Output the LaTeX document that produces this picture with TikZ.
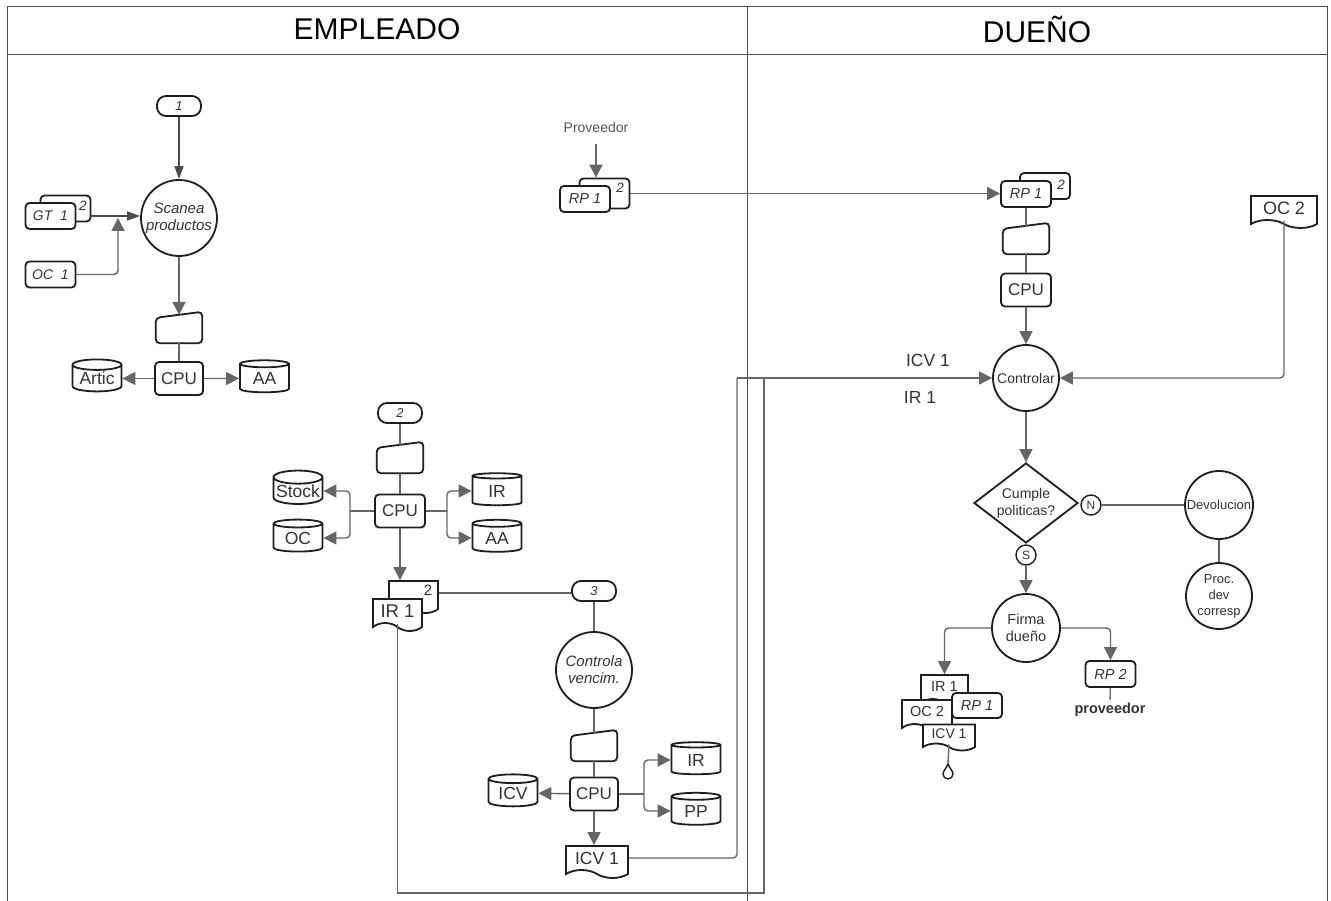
\documentclass[tikz,border=0pt]{standalone}
\usepackage{fontspec}
\setmainfont{Liberation Sans}
\usetikzlibrary{arrows.meta,shapes.geometric,shapes.symbols,calc}

\definecolor{ink}{HTML}{1E1E1E}
\definecolor{wire}{HTML}{666666}
\definecolor{txt}{HTML}{333333}
\newcommand\fsz[2]{\fontsize{#1}{#2}\selectfont}

% manual input: empty node with a slanted top drawn around it
\newcommand\manualin[2]{%
  \node[inputbox] (#1) at #2 {};
  \draw[shapeline, rounded corners=4pt] ($(#1.north west)+(0,3)$) -- ($(#1.north east)+(0,-3)$)
    -- (#1.south east) -- (#1.south west) -- cycle;
}

\begin{document}
\begin{tikzpicture}[x=1pt, y=-1pt,
    shapeline/.style={draw=ink, line width=1.8pt, fill=white},
    inputbox/.style={minimum width=46pt, minimum height=28pt, inner sep=0pt},
    box/.style={shapeline, rounded corners=4pt, text=txt, inner sep=0pt, minimum width=50pt, minimum height=26pt},
    cpubox/.style={box, minimum width=48pt, minimum height=33pt, font=\fsz{17}{20}},
    disk/.style={cylinder, shape border rotate=90, aspect=0.3, shapeline, text=txt, inner sep=0pt,
      minimum width=49pt, minimum height=32pt, font=\fsz{17.5}{20}},
    doc/.style={tape, tape bend top=none, tape bend bottom=out and in, tape bend height=8pt, shapeline,
      text=txt, inner sep=0pt, minimum width=50pt, minimum height=32pt},
    term/.style={shapeline, rounded corners=9pt, text=txt, inner sep=0pt, minimum width=44pt,
      minimum height=20pt, font=\fsz{13}{15}\itshape},
    proc/.style={circle, shapeline, text=txt, align=center, inner sep=0pt},
    flag/.style={circle, shapeline, line width=1.4pt, text=txt, inner sep=0pt, minimum size=20pt, font=\fsz{12}{14}},
    copies/.style={text=txt, font=\fsz{13.5}{15}\itshape},
    line/.style={draw=wire, line width=1.4pt},
    arr/.style={line, -{Triangle[length=13pt, width=13pt]}},
    thinarr/.style={draw=ink!80, line width=1.1pt, -{Triangle[length=13pt, width=9pt]}},
    lane/.style={draw=ink!80, line width=1pt},
  ]
  \fill[white] (0,0) rectangle (1331,901);
  \useasboundingbox (0,0) rectangle (1331,901);

  % swimlanes
  \draw[lane] (7,901) -- (7,7) -- (1327,7) -- (1327,901);
  \draw[lane] (7,55) -- (1327,55);
  \draw[lane] (747,7) -- (747,901);
  \node[font=\fsz{30}{34}] (hemp) at (377,29) {EMPLEADO};
  \node[font=\fsz{30}{34}] (hdue) at (1037,29) {DUEÑO};

  % empleado: scanea productos
  \node[term] (c1) at (179,106) {1};
  \node[proc, minimum size=76pt, font=\fsz{15}{17}\itshape] (scan) at (179,218) {Scanea\\productos};
  \node[box] (gtbk) at (65.5,208.5) {};
  \node[box, font=\fsz{14}{16}\itshape] (gt) at (50.5,216) {GT\ \ 1};
  \node[copies] (gtn) at (83,206) {2};
  \node[box, font=\fsz{14}{16}\itshape] (oc1) at (50.5,274.5) {OC\ \ 1};
  \coordinate (gtj) at (118,218);
  \manualin{mi1}{(179,329)}
  \node[cpubox] (cpu1) at (179,378.5) {CPU};
  \node[disk] (artic) at (97,378.5) {Artic};
  \node[disk] (aa1) at (264.5,378.5) {AA};

  \draw[thinarr] (c1) -- (scan);
  \draw[thinarr] (gt.east -| gtbk.east) -- (gt.east -| scan.west);
  \draw[arr, rounded corners=4pt] (oc1.east) -| (gtj);
  \draw[arr] (scan) -- (mi1.north);
  \draw[line] (mi1) -- (cpu1);
  \draw[arr] (cpu1) -- (artic);
  \draw[arr] (cpu1) -- (aa1);

  % empleado: registro
  \node[term] (c2) at (400,413) {2};
  \manualin{mi2}{(400,459)}
  \node[cpubox, minimum width=50pt] (cpu2) at (400,511) {CPU};
  \node[disk] (stock) at (298,491) {Stock};
  \node[disk] (oc) at (298,538) {OC};
  \node[disk] (ir2) at (497,491) {IR};
  \node[disk] (aa2) at (497,538) {AA};
  \coordinate (jl2) at (350,511);
  \coordinate (jr2) at (447,511);
  \node[doc, minimum width=49pt] (ir1bk) at (413.5,593) {};
  \node[doc, minimum width=49pt, font=\fsz{18.5}{20}] (ir1) at (397.5,611) {IR 1};
  \node[text=txt, font=\fsz{15}{17}] (ir1n) at (428,590) {2};

  \draw[line] (c2) -- (mi2.north);
  \draw[line] (mi2) -- (cpu2);
  \draw[line] (cpu2.west) -- (jl2);
  \draw[arr, rounded corners=4pt] (jl2) |- (stock.east);
  \draw[arr, rounded corners=4pt] (jl2) |- (oc.east);
  \draw[line] (cpu2.east) -- (jr2);
  \draw[arr, rounded corners=4pt] (jr2) |- (ir2.west);
  \draw[arr, rounded corners=4pt] (jr2) |- (aa2.west);
  \draw[arr] (cpu2.south) -- (cpu2.south |- ir1bk.north);

  % empleado: controla vencimientos
  \node[term] (c3) at (594,591) {3};
  \node[proc, minimum size=76pt, font=\fsz{15}{17}\itshape] (ctrl) at (594,670) {Controla\\vencim.};
  \manualin{mi3}{(594,747)}
  \node[cpubox] (cpu3) at (594,794) {CPU};
  \node[disk] (icv) at (513,793) {ICV};
  \node[disk] (ir3) at (696,760) {IR};
  \node[disk] (pp) at (696,811) {PP};
  \coordinate (jr3) at (644,794);
  \node[doc, minimum width=62pt, font=\fsz{17.5}{20}] (icv1) at (597,858) {ICV 1};

  \draw[line] (ir1bk.east) -- (ir1bk.east -| c3.west);
  \draw[line] (c3) -- (ctrl);
  \draw[line] (ctrl) -- (mi3.north);
  \draw[line] (mi3) -- (cpu3);
  \draw[arr] (cpu3) -- (icv);
  \draw[line] (cpu3.east) -- (jr3);
  \draw[arr, rounded corners=4pt] (jr3) |- (ir3.west);
  \draw[arr, rounded corners=4pt] (jr3) |- (pp.west);
  \draw[arr] (cpu3.south) -- (cpu3.south |- icv1.north);

  % dueño: recepcion
  \node[text=ink!75, font=\fsz{14}{16}] (prov) at (596,127) {Proveedor};
  \node[box, minimum height=30pt] (rp1bk) at (604.5,193.5) {};
  \node[box, font=\fsz{14.5}{16}\itshape] (rp1) at (585,199) {RP 1};
  \node[copies] (rp1n) at (620,188) {2};
  \node[box] (rp1rbk) at (1045,186) {};
  \node[box, font=\fsz{14.5}{16}\itshape] (rp1r) at (1026,194) {RP 1};
  \node[copies] (rp1rn) at (1061,185) {2};
  \manualin{mi4}{(1026,240)}
  \node[cpubox, minimum width=50pt] (cpu4) at (1026,290) {CPU};
  \node[proc, minimum size=66pt, font=\fsz{14}{16}] (ctl) at (1026,378) {Controlar};
  \node[doc, minimum width=66pt, font=\fsz{18}{20}] (oc2) at (1284,208) {OC 2};
  \node[text=txt, font=\fsz{17.5}{20}] (licv) at (928,360) {ICV 1};
  \node[text=txt, font=\fsz{17.5}{20}] (lir) at (920,397) {IR 1};
  \coordinate (cj1) at (737,378);
  \coordinate (cj2) at (764,893);
  \coordinate (cj3) at (764,378);

  \draw[arr, shorten <=8pt] (prov.south) -- (prov.south |- rp1bk.north);
  \draw[arr] (rp1bk.east) -- (rp1bk.east -| rp1r.west);
  \draw[line] (rp1r) -- (mi4.north);
  \draw[line] (mi4) -- (cpu4);
  \draw[arr] (cpu4) -- (ctl);
  \draw[line, rounded corners=4pt] (icv1.east) -| (cj1);
  \draw[line] (ir1.south) |- (cj2) -- (cj3);
  \draw[arr] (cj1) -- (ctl.west);
  \draw[arr, rounded corners=4pt] (oc2.south) |- (ctl.east);

  % dueño: decision y firma
  \node[diamond, shapeline, text=txt, align=center, inner sep=0pt, aspect=1.3,
    minimum width=104pt, minimum height=80pt, font=\fsz{14}{17}] (cump) at (1026,503) {Cumple\\politicas?};
  \node[flag] (fn) at (1091,505) {N};
  \node[flag] (fs) at (1026,555) {S};
  \node[proc, minimum size=68pt, font=\fsz{13}{15}] (devol) at (1219,505) {Devolucion};
  \node[proc, minimum size=66pt, font=\fsz{13}{16}] (pdev) at (1219,596) {Proc.\\dev\\corresp};
  \node[proc, minimum size=68pt, font=\fsz{14.5}{17}] (firma) at (1026,628) {Firma\\dueño};
  \node[box, font=\fsz{14.5}{16}\itshape] (rp2) at (1110.5,674) {RP 2};
  \node[text=txt, font=\fsz{14.5}{16}\bfseries] (prv) at (1110,710) {proveedor};
  \node[doc, minimum width=47pt, font=\fsz{14.5}{16}] (stir1) at (944.5,687) {IR 1};
  \node[doc, font=\fsz{14.5}{16}] (stoc2) at (927,712) {OC 2};
  \node[box, minimum height=25pt, font=\fsz{14.5}{16}\itshape] (strp1) at (977,705.5) {RP 1};
  \node[doc, minimum width=52pt, minimum height=26pt, tape bend height=7pt, font=\fsz{14}{16}] (sticv) at (949,734) {ICV 1};
  \coordinate (drp) at (948,764);

  \draw[arr] (ctl) -- (cump);
  \draw[line] (fn) -- (devol);
  \draw[line] (devol) -- (pdev);
  \draw[arr] (fs) -- (firma);
  \draw[arr, rounded corners=4pt] (firma.west) -| (stir1.north);
  \draw[arr, rounded corners=4pt] (firma.east) -| (rp2.north);
  \draw[line] (rp2) -- (prv);
  \draw[line] (sticv.south) -- (drp);
  \draw[draw=ink, line width=1.4pt] (drp) .. controls (946,769) and (943,771) .. (943,774)
    arc[start angle=180, end angle=0, radius=5] .. controls (953,771) and (950,769) .. (drp);
\end{tikzpicture}
\end{document}
